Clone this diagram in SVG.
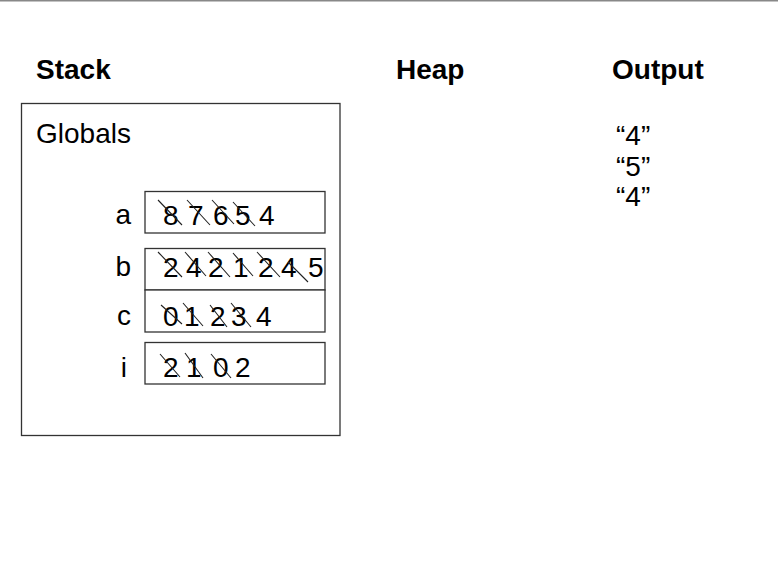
<svg xmlns="http://www.w3.org/2000/svg" width="778" height="564" viewBox="0 0 778 564">
<style>
.hdr{font-family:"Liberation Sans",Arial,sans-serif;font-weight:bold;font-size:28px;fill:#000}
.txt{font-family:"Liberation Sans",Arial,sans-serif;font-size:28px;fill:#000}
.dig{font-family:"Liberation Sans",Arial,sans-serif;font-size:28px;fill:#000}
.box{fill:#fff;stroke:#333;stroke-width:1.3}
.strike{stroke:#222;stroke-width:1.1;fill:none}
</style>
<rect x="0" y="0" width="778" height="564" fill="#fff"/>
<line x1="0" y1="0.75" x2="778" y2="0.75" stroke="#888" stroke-width="1.5"/>
<g id="headers">
<text class="hdr" x="36" y="79">Stack</text>
<text class="hdr" x="396" y="79">Heap</text>
<text class="hdr" x="612" y="79">Output</text>
</g>
<g id="globals">
<rect class="box" x="21.5" y="103.5" width="318.5" height="332"/>
<text class="txt" x="36" y="143">Globals</text>
</g>
<g id="var-a">
<rect class="box" x="145" y="191.5" width="180" height="41.5"/>
<text class="txt" x="131" y="224" text-anchor="end">a</text>
<text class="dig" y="225"><tspan x="163">8</tspan><tspan x="188">7</tspan><tspan x="213">6</tspan><tspan x="235">5</tspan><tspan x="259">4</tspan></text>
<path class="strike" d="M158 200L182 225M187 200L210 225M212 200L234 224M233 202L255 226"/>
</g>
<g id="var-b">
<rect class="box" x="145" y="248.5" width="180" height="41.5"/>
<text class="txt" x="131" y="276" text-anchor="end">b</text>
<text class="dig" y="277"><tspan x="163">2</tspan><tspan x="186">4</tspan><tspan x="208">2</tspan><tspan x="233">1</tspan><tspan x="258">2</tspan><tspan x="281">4</tspan><tspan x="308">5</tspan></text>
<path class="strike" d="M158 252L182 277M185 252L206 276M208 252L230 277M233 253L253 276M257 252L280 277M288 262L308 282"/>
</g>
<g id="var-c">
<rect class="box" x="145" y="290" width="180" height="42"/>
<text class="txt" x="131" y="325" text-anchor="end">c</text>
<text class="dig" y="326"><tspan x="163">0</tspan><tspan x="184">1</tspan><tspan x="210">2</tspan><tspan x="231">3</tspan><tspan x="256">4</tspan></text>
<path class="strike" d="M161 305L182 324M183 303L203 326M210 305L227 327M231 303L251 327"/>
</g>
<g id="var-i">
<rect class="box" x="145" y="342.5" width="180" height="41.5"/>
<text class="txt" x="127" y="377" text-anchor="end">i</text>
<text class="dig" y="377"><tspan x="163">2</tspan><tspan x="186">1</tspan><tspan x="213">0</tspan><tspan x="235">2</tspan></text>
<path class="strike" d="M160 354L180 377M185 353L203 378M211 354L231 378"/>
</g>
<g id="output">
<text class="txt" x="616" y="145">“4”</text>
<text class="txt" x="616" y="175.5">“5”</text>
<text class="txt" x="616" y="206">“4”</text>
</g>
<g id="connectors"></g>
</svg>
